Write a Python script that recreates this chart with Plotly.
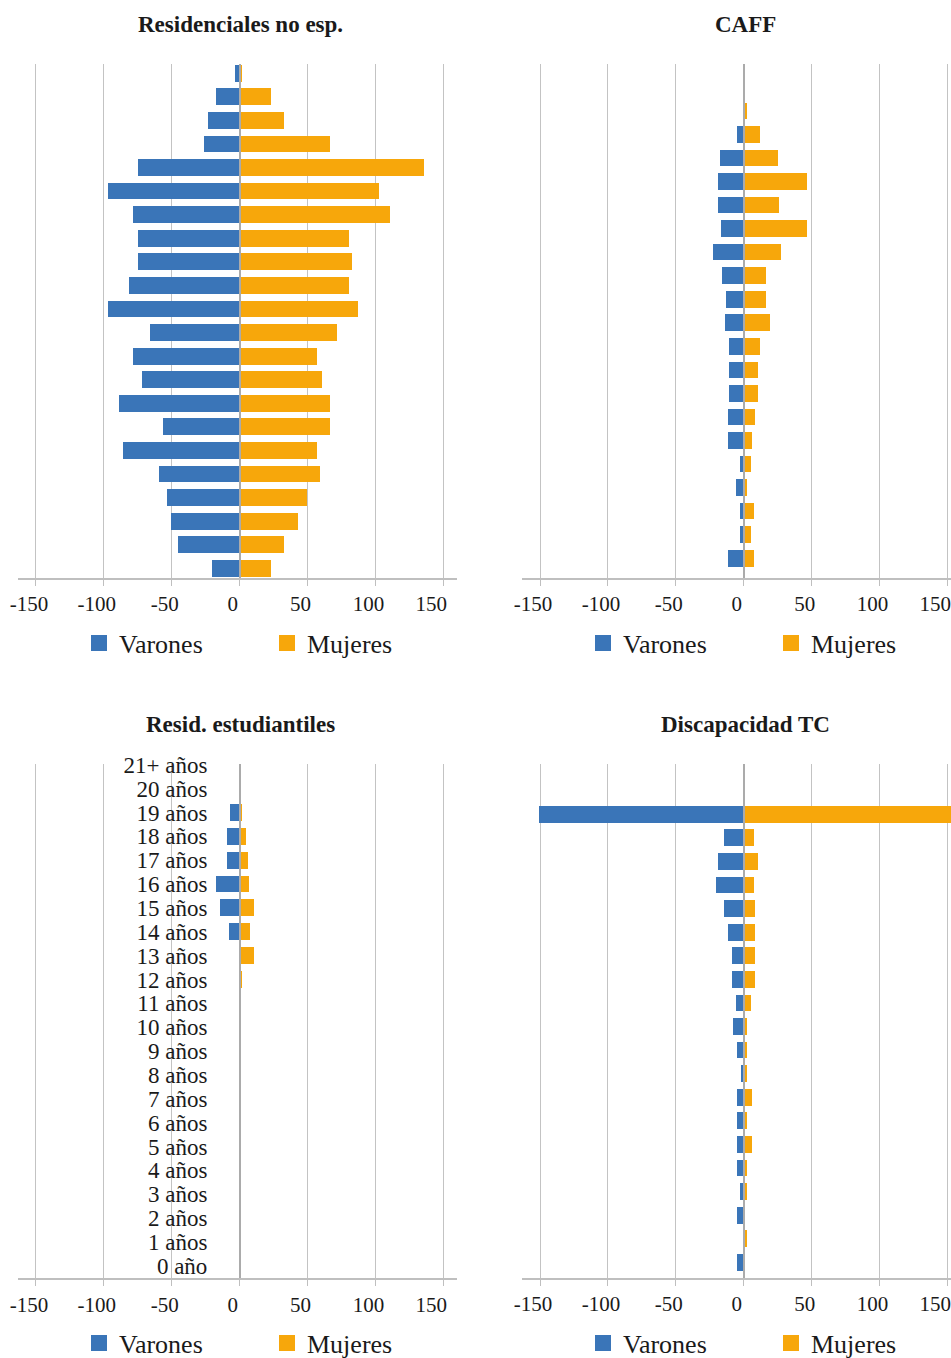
import plotly.graph_objects as go

# ---------------- data ----------------
categories = ["0 año", "1 años", "2 años", "3 años", "4 años", "5 años", "6 años",
              "7 años", "8 años", "9 años", "10 años", "11 años", "12 años", "13 años",
              "14 años", "15 años", "16 años", "17 años", "18 años", "19 años",
              "20 años", "21+ años"]

res_no_esp_varones = [20, 45, 50, 53, 59, 86, 56, 89, 72, 78, 66, 97, 81, 75, 75, 78, 97, 75, 26, 23, 17, 3]
res_no_esp_mujeres = [23, 33, 43, 50, 59, 57, 67, 67, 61, 57, 72, 87, 81, 83, 81, 111, 103, 136, 67, 33, 23, 2]

caff_varones = [12, 3, 3, 6, 3, 12, 12, 11, 11, 11, 14, 13, 16, 23, 17, 19, 19, 18, 5, 0, 0, 0]
caff_mujeres = [7, 5, 7, 2, 5, 6, 8, 10, 10, 12, 19, 16, 16, 27, 46, 26, 46, 25, 12, 2, 0, 0]

estud_varones = [0, 0, 0, 0, 0, 0, 0, 0, 0, 0, 0, 0, 0, 0, 8, 14, 17, 9, 9, 7, 0, 0]
estud_mujeres = [0, 0, 0, 0, 0, 0, 0, 0, 0, 0, 0, 0, 2, 11, 8, 11, 7, 6, 5, 2, 0, 0]

disc_varones = [5, 0, 5, 3, 5, 5, 5, 5, 2, 5, 8, 6, 9, 9, 12, 15, 21, 19, 15, 151, 0, 0]
disc_mujeres = [0, 2, 0, 2, 2, 6, 2, 6, 2, 2, 2, 5, 8, 8, 8, 8, 7, 10, 7, 156, 0, 0]

titles = ["Residenciales no esp.", "CAFF", "Resid. estudiantiles", "Discapacidad TC"]
series_names = ["Varones", "Mujeres"]
x_tickvals = [-150, -100, -50, 0, 50, 100, 150]
x_ticktext = ["-150", "-100", "-50", "0", "50", "100", "150\u00a0\u00a0"]

# ---------------- styling ----------------
W, H = 951, 1358
BLUE = "#3A75B8"
ORANGE = "#F7A70B"
GRID = "#C3C3C3"
FONT = "Liberation Serif"
TXT = "#1a1a1a"

def fx(px):
    return px / W

def fy(py):
    return 1 - py / H

panels = [
    dict(v=res_no_esp_varones, m=res_no_esp_mujeres, xd=(18.3, 456.7), yd=(64, 578),
         xr=(-163.0, 159.8), yr=(-0.41, 21.39), zero=239.7, labels=False, leg=(79, 643)),
    dict(v=caff_varones, m=caff_mujeres, xd=(521.7, 951), yd=(64, 578),
         xr=(-163.5, 152.6), yr=(-0.84, 20.99), zero=743.7, labels=False, leg=(583, 643)),
    dict(v=estud_varones, m=estud_mujeres, xd=(18.3, 456.7), yd=(764, 1278.3),
         xr=(-163.0, 159.8), yr=(-0.525, 21.03), zero=239.7, labels=True, leg=(79, 1343)),
    dict(v=disc_varones, m=disc_mujeres, xd=(521.7, 951), yd=(764, 1277.7),
         xr=(-163.5, 152.6), yr=(-0.653, 21.13), zero=743.7, labels=False, leg=(583, 1343)),
]
title_pos = [(241, 24), (745, 24), (241, 724), (745, 724)]

fig = go.Figure()
idx = list(range(len(categories)))
layout = {}
annotations = []

for i, p in enumerate(panels):
    n = "" if i == 0 else str(i + 1)
    xa, ya = "x" + n, "y" + n
    lg = "legend" + n
    fig.add_trace(go.Bar(
        y=idx, x=[-v for v in p["v"]], orientation="h", width=0.71,
        marker=dict(color=BLUE, line=dict(width=0)), name=series_names[0],
        customdata=p["v"], hovertemplate="%{customdata}<extra>Varones</extra>",
        xaxis=xa, yaxis=ya, showlegend=False))
    fig.add_trace(go.Bar(
        y=idx, x=p["m"], orientation="h", width=0.71,
        marker=dict(color=ORANGE, line=dict(width=0)), name=series_names[1],
        hovertemplate="%{x}<extra>Mujeres</extra>",
        xaxis=xa, yaxis=ya, showlegend=False))
    # legend entries
    for nm, col in zip(series_names, [BLUE, ORANGE]):
        fig.add_trace(go.Scatter(
            x=[None], y=[None], mode="markers", name=nm,
            marker=dict(symbol="square", size=20, color=col),
            xaxis=xa, yaxis=ya, legend=lg, showlegend=True, hoverinfo="skip"))

    layout["xaxis" + n] = dict(
        domain=[fx(p["xd"][0]), fx(p["xd"][1])], range=list(p["xr"]),
        anchor=ya, tickvals=x_tickvals, ticktext=x_ticktext,
        showgrid=True, gridcolor=GRID, gridwidth=1.3, zeroline=False,
        showline=True, linecolor="#BFBFBF", linewidth=2,
        ticks="outside", ticklen=6, tickwidth=1.3, tickcolor="#BFBFBF",
        tickfont=dict(family=FONT, size=21, color=TXT),
        ticklabelshift=-7, ticklabeloverflow="allow", fixedrange=True)
    layout["yaxis" + n] = dict(
        domain=[fy(p["yd"][1]), fy(p["yd"][0])], range=list(p["yr"]),
        anchor="free", position=fx(p["zero"]),
        tickvals=idx, ticktext=categories, showticklabels=p["labels"],
        ticks="", showgrid=False, zeroline=False,
        showline=True, linecolor="#ABABAB", linewidth=1.5, layer="above traces",
        tickfont=dict(family=FONT, size=23, color=TXT),
        ticklabelstandoff=27, ticklabeloverflow="allow", fixedrange=True)
    layout[lg] = dict(
        orientation="h", x=fx(p["leg"][0]), xanchor="left",
        y=fy(p["leg"][1]), yanchor="middle",
        font=dict(family=FONT, size=26, color=TXT),
        bgcolor="rgba(0,0,0,0)", entrywidth=143, entrywidthmode="pixels",
        itemclick=False, itemdoubleclick=False)
    tx, ty = title_pos[i]
    annotations.append(dict(
        text="<b>" + titles[i] + "</b>", x=fx(tx), y=fy(ty), xref="paper", yref="paper",
        xanchor="center", yanchor="middle", showarrow=False,
        font=dict(family=FONT, size=23, color=TXT)))

fig.update_layout(
    width=W, height=H, margin=dict(l=0, r=0, t=0, b=0, autoexpand=False),
    paper_bgcolor="white", plot_bgcolor="white",
    barmode="relative", bargap=0, hovermode="closest",
    annotations=annotations, **layout)

fig.write_html("out.html", config={"displayModeBar": False},
               post_script="document.body.style.margin='0';document.body.style.overflow='hidden';")
